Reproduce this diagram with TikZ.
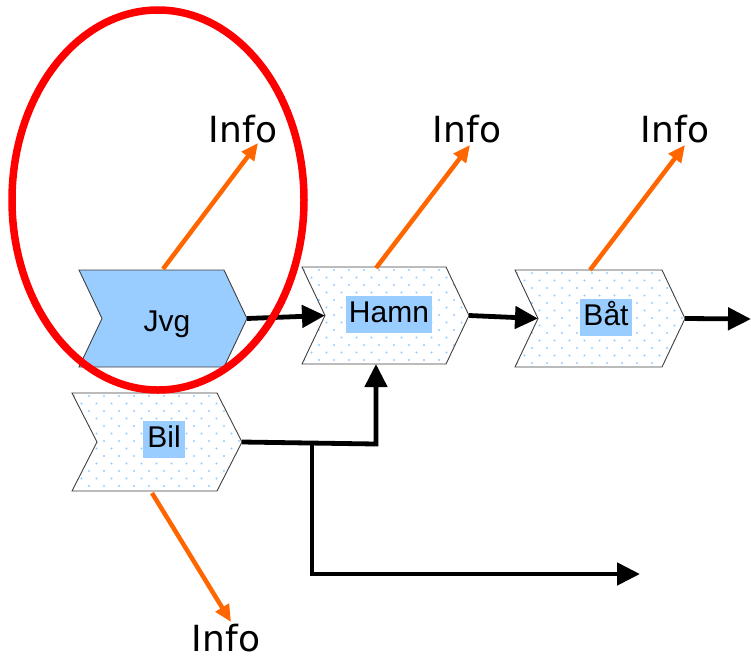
\documentclass[tikz,border=0pt]{standalone}
\usepackage{fontspec}
\setmainfont{Liberation Sans}
\newfontfamily\infofont{DejaVu Sans}
\usetikzlibrary{arrows.meta,shapes.geometric}
\definecolor{lblue}{HTML}{99CCFF}
\definecolor{dotblue}{HTML}{99CCFF}
\definecolor{orng}{HTML}{FF6600}
\definecolor{redc}{HTML}{FF0000}
\tikzset{
  chevborder/.style={draw=black!75, line width=0.9pt, line join=miter},
  flow/.style={line width=4.8pt, -{Triangle[length=23pt,width=22pt]}},
  infoarrow/.style={draw=orng, line width=4.5pt, -{Triangle[length=17pt,width=15pt]}},
  infotext/.style={font=\infofont\fontsize{36}{40}\selectfont, inner sep=0pt, anchor=base},
  boxlabel/.style={font=\fontsize{30}{34}\selectfont, text height=23pt, text depth=6pt, inner ysep=4pt, inner xsep=3pt},
  highlight/.style={draw=redc, line width=7.5pt, ellipse, inner sep=0pt, minimum width=292pt, minimum height=380pt},
}
% #1 name, #2 left x, #3 right x, #4 top y, #5 bottom y, #6 depth
\newcommand\mychevpath[6]{(#2,#4) -- (#3,#4) -- ({#3+#6},{(#4+#5)/2}) -- (#3,#5) -- (#2,#5) -- ({#2+#6},{(#4+#5)/2}) -- cycle}
\newcommand\mychevcoords[6]{%
  \coordinate (#1-notch) at ({#2+#6},{(#4+#5)/2});
  \coordinate (#1-tip) at ({#3+#6},{(#4+#5)/2});
  \coordinate (#1-top) at ({(#2+#3)/2},#4);
  \coordinate (#1-bottom) at ({(#2+#3)/2},#5);}
\newcommand\dottedchev[6]{%
  \fill[white] \mychevpath{#1}{#2}{#3}{#4}{#5}{#6};
  \begin{scope}
    \clip \mychevpath{#1}{#2}{#3}{#4}{#5}{#6};
    \foreach \yy in {0,...,14}{
      \foreach \xx in {0,...,12}{
        \fill[dotblue] ({#2+2+\xx*15+mod(\yy,2)*7.5},{#4+3+\yy*7.5}) circle (1.2);
      }
    }
  \end{scope}
  \draw[chevborder] \mychevpath{#1}{#2}{#3}{#4}{#5}{#6};
  \mychevcoords{#1}{#2}{#3}{#4}{#5}{#6}}
\begin{document}
\begin{tikzpicture}[x=1pt,y=-1pt]
\useasboundingbox (0,0) rectangle (751,659);
% Jvg chevron (solid blue)
\fill[lblue] \mychevpath{jvg}{79}{224}{270}{367}{23};
\draw[chevborder] \mychevpath{jvg}{79}{224}{270}{367}{23};
\mychevcoords{jvg}{79}{224}{270}{367}{23}
\node[font=\fontsize{30}{34}\selectfont, anchor=base] (jvglabel) at (167,331) {Jvg};
% Hamn, Baat, Bil chevrons (dotted)
\dottedchev{hamn}{302}{446}{267}{364}{23}
\node[boxlabel, fill=lblue] (hamnlabel) at (389,314) {Hamn};
\dottedchev{bat}{515}{662}{270}{367}{23}
\node[boxlabel, fill=lblue, inner xsep=3.5pt] (batlabel) at (606,317) {Båt};
\dottedchev{bil}{72}{217}{393}{491}{25}
\node[boxlabel, fill=lblue, inner xsep=4pt] (billabel) at (164,439) {Bil};
% flow connectors
\draw[flow] (jvg-tip) -- (hamn-notch);
\draw[flow] (hamn-tip) -- (bat-notch);
\coordinate (outend) at (751,319);
\draw[flow] (bat-tip) -- (outend);
\coordinate (bend) at (376,444);
\coordinate (hamnin) at (376,364);
\draw[flow] (bil-tip) -- (bend) -- (hamnin);
\coordinate (branch) at (312,444);
\coordinate (corner) at (312,574);
\coordinate (downend) at (640,574);
\draw[flow] (branch) -- (corner) -- (downend);
% info arrows
\coordinate (jvgsrc) at (163,269);
\coordinate (jvginfo) at (258,143);
\draw[infoarrow] (jvgsrc) -- (jvginfo);
\coordinate (hamnsrc) at (376,268);
\coordinate (hamninfo) at (470,145);
\draw[infoarrow] (hamnsrc) -- (hamninfo);
\coordinate (batsrc) at (590,270);
\coordinate (batinfo) at (685,145);
\draw[infoarrow] (batsrc) -- (batinfo);
\coordinate (bilsrc) at (152,493);
\coordinate (bilinfo) at (231,622);
\draw[infoarrow] (bilsrc) -- (bilinfo);
\node[infotext] (info1) at (243,142) {Info};
\node[infotext] (info2) at (467,142) {Info};
\node[infotext] (info3) at (675,142) {Info};
\node[infotext] (info4) at (226,651) {Info};
% red ellipse
\node[highlight] (circ) at (158,200) {};
\end{tikzpicture}
\end{document}
